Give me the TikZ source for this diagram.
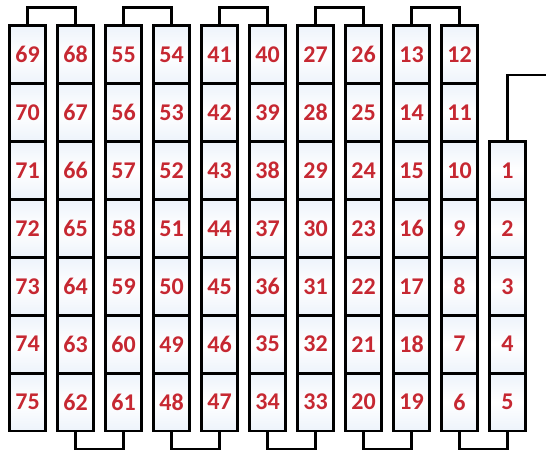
\documentclass[tikz,border=0pt]{standalone}
\usepackage{fontspec}
\setmainfont{Carlito}
\definecolor{numred}{RGB}{198,40,50}
\definecolor{edgeblue}{RGB}{237,243,251}
\begin{document}
\begin{tikzpicture}[x=0.75pt,y=-0.75pt,
  cell/.style={draw=black, line width=2.1pt, minimum width=27.4pt, minimum height=43.4pt,
    inner sep=0pt, outer sep=0pt, top color=edgeblue, bottom color=edgeblue, middle color=white,
    font=\fontsize{18}{20}\selectfont\bfseries, text=numred},
  link/.style={draw=black, line width=1.7pt}]
\useasboundingbox (0,0) rectangle (546,452);
\foreach \col/\lst in {0/{69,70,71,72,73,74,75}, 1/{68,67,66,65,64,63,62},
  2/{55,56,57,58,59,60,61}, 3/{54,53,52,51,50,49,48}, 4/{41,42,43,44,45,46,47},
  5/{40,39,38,37,36,35,34}, 6/{27,28,29,30,31,32,33}, 7/{26,25,24,23,22,21,20},
  8/{13,14,15,16,17,18,19}, 9/{12,11,10,9,8,7,6}}{
  \foreach \n [count=\r from 0] in \lst {
    \node[cell] (c\n) at ({27.5+48*\col},{54.7+57.9*\r}) {\n};
  }
}
\foreach \n [count=\r from 2] in {1,2,3,4,5} {
  \node[cell] (c\n) at ({27.5+48*10},{54.7+57.9*\r}) {\n};
}
\coordinate (topline) at (0,7.5);
\coordinate (botline) at (0,449);
\coordinate (exitpt) at (546,75);
\foreach \a/\b in {69/68, 55/54, 41/40, 27/26, 13/12} {
  \draw[link] (c\a.north) -- (c\a.north |- topline) -- (c\b.north |- topline) -- (c\b.north);
}
\foreach \a/\b in {62/61, 48/47, 34/33, 20/19, 6/5} {
  \draw[link] (c\a.south) -- (c\a.south |- botline) -- (c\b.south |- botline) -- (c\b.south);
}
\draw[link] (c1.north) |- (exitpt);
\end{tikzpicture}
\end{document}
